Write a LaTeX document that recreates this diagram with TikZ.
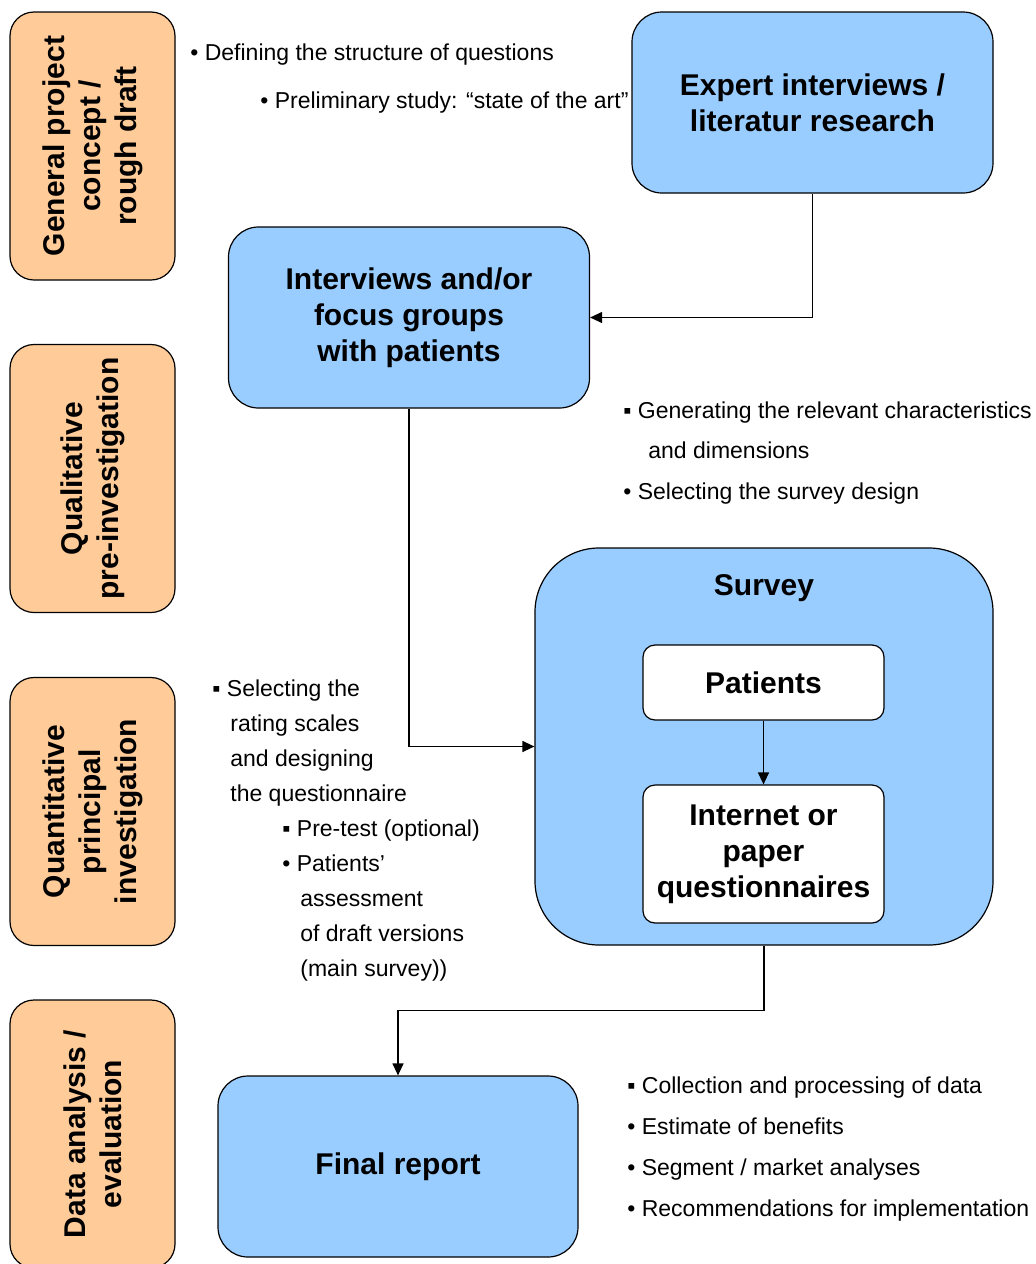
\documentclass[tikz,border=0pt]{standalone}
\usepackage{fontspec}
\setmainfont{Liberation Sans}
\usetikzlibrary{arrows.meta, positioning}
\definecolor{boxblue}{RGB}{153,204,255}
\definecolor{boxpeach}{RGB}{255,204,153}

\begin{document}
\begin{tikzpicture}[x=0.5pt, y=-0.5pt,
    phase/.style={draw, line width=0.6pt, fill=boxpeach, rounded corners=12pt, rotate=90,
        minimum width=134pt, minimum height=82.5pt, align=center,
        font=\bfseries\fontsize{15}{18}\selectfont},
    stage/.style={draw, line width=0.6pt, fill=boxblue, rounded corners=15pt,
        minimum width=180.5pt, minimum height=90.5pt, align=center,
        font=\bfseries\fontsize{15}{18}\selectfont},
    sub/.style={draw, line width=0.6pt, fill=white, rounded corners=6pt,
        minimum width=120.5pt, align=center,
        font=\bfseries\fontsize{15}{18}\selectfont},
    note/.style={anchor=north west, inner sep=0pt, align=left},
    arr/.style={-{Triangle[length=6pt, width=5.5pt]}, line width=0.6pt}]
    \useasboundingbox (0,0) rectangle (1036,1264);

    % phases on the left
    \node[phase] (concept) at (92.5, 146) {General project\\concept /\\rough draft};
    \node[phase] (quali) at (92.5, 478.5) {Qualitative\\pre-investigation};
    \node[phase] (quanti) at (92.5, 811.5) {Quantitative\\principal\\investigation};
    \node[phase] (analysis) at (92.5, 1134) {Data analysis /\\evaluation};

    % main stages
    \node[stage] (expert) at (812.5, 102.5) {Expert interviews /\\literatur research};
    \node[stage] (interviews) at (409, 317.5) {Interviews and/or\\focus groups\\with patients};
    \node[stage, rounded corners=32pt, minimum width=229pt, minimum height=198.5pt] (survey) at (764, 746.5) {};
    \node[font=\bfseries\fontsize{15}{18}\selectfont, below=10pt of survey.north] (surveytitle) {Survey};
    \node[sub, minimum height=37.5pt] (patients) at (763.5, 682.5) {Patients};
    \node[sub, minimum height=69pt] (internet) at (763.5, 854) {Internet or\\paper\\questionnaires};
    \node[stage, minimum width=180pt] (final) at (398, 1166.5) {Final report};

    % notes
    \node[note, font=\fontsize{11.5}{24}\selectfont] (qdef) at (190, 43)
        {• Defining the structure of questions\\
         \hspace*{35pt}• Preliminary study: “state of the art”};
    \node[note, font=\fontsize{11.5}{20.25}\selectfont] (qgen) at (623, 401)
        {▪ Generating the relevant characteristics\\
         \hspace*{12.5pt}and dimensions\\
         • Selecting the survey design};
    \node[note, font=\fontsize{11.5}{17.5}\selectfont] (qscale) at (212, 679)
        {▪ Selecting the\\
         \hspace*{9pt}rating scales\\
         \hspace*{9pt}and designing\\
         \hspace*{9pt}the questionnaire\\
         \hspace*{35pt}▪ Pre-test (optional)\\
         \hspace*{35pt}• Patients’\\
         \hspace*{44pt}assessment\\
         \hspace*{44pt}of draft versions\\
         \hspace*{44pt}(main survey))};
    \node[note, font=\fontsize{11.5}{20.5}\selectfont] (qeval) at (627, 1076)
        {▪ Collection and processing of data\\
         • Estimate of benefits\\
         • Segment / market analyses\\
         • Recommendations for implementation};

    \draw[arr] (expert.south) |- (interviews.east);
    \draw[arr] (interviews.south) |- (survey.west);
    \draw[arr] (patients) -- (internet);
    \draw[arr] (survey.south) -- ++(0,65) -| (final.north);
\end{tikzpicture}
\end{document}
